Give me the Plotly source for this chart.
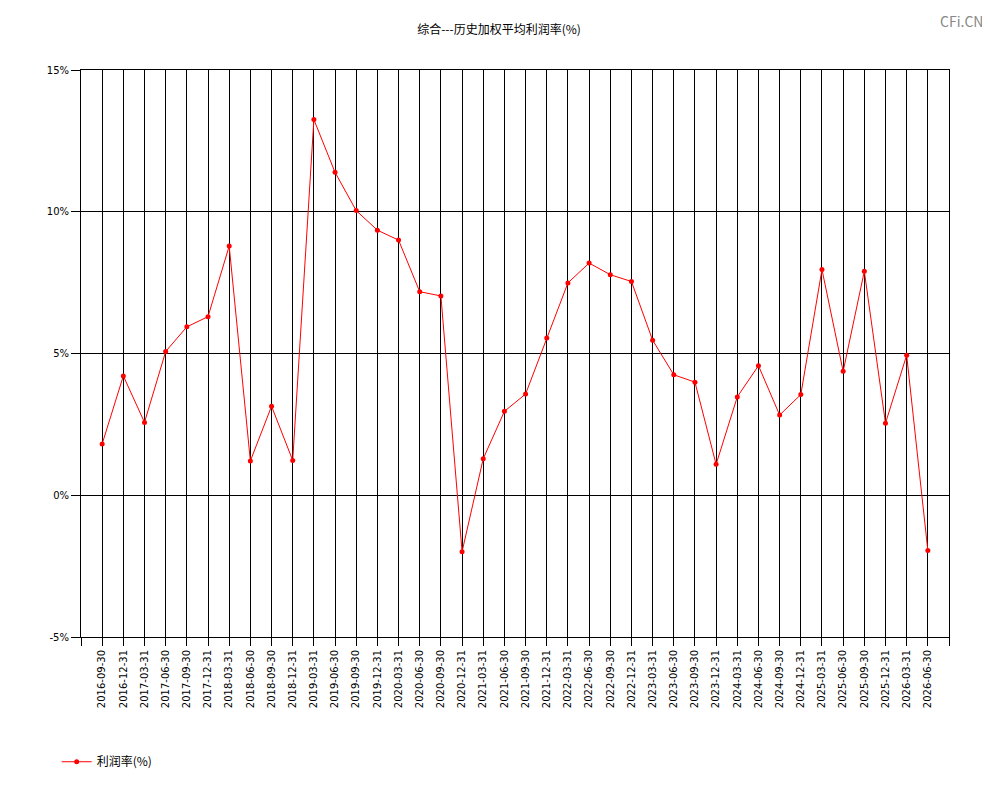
import plotly.graph_objects as go

dates = [
    "2016-09-30", "2016-12-31", "2017-03-31", "2017-06-30", "2017-09-30", "2017-12-31",
    "2018-03-31", "2018-06-30", "2018-09-30", "2018-12-31", "2019-03-31", "2019-06-30",
    "2019-09-30", "2019-12-31", "2020-03-31", "2020-06-30", "2020-09-30", "2020-12-31",
    "2021-03-31", "2021-06-30", "2021-09-30", "2021-12-31", "2022-03-31", "2022-06-30",
    "2022-09-30", "2022-12-31", "2023-03-31", "2023-06-30", "2023-09-30", "2023-12-31",
    "2024-03-31", "2024-06-30", "2024-09-30", "2024-12-31", "2025-03-31", "2025-06-30",
    "2025-09-30", "2025-12-31", "2026-03-31", "2026-06-30",
]
profit_rate = [
    1.81, 4.21, 2.57, 5.07, 5.94, 6.30, 8.79, 1.21, 3.14, 1.23,
    13.25, 11.39, 10.04, 9.35, 9.00, 7.18, 7.03, -1.99, 1.29, 2.96,
    3.57, 5.55, 7.49, 8.19, 7.78, 7.54, 5.47, 4.25, 3.99, 1.09,
    3.47, 4.57, 2.83, 3.55, 7.96, 4.37, 7.90, 2.54, 4.94, -1.95,
]
y_ticks = [-5, 0, 5, 10, 15]

idx = list(range(len(dates)))

# the page body adds an 8px offset, so the figure is a bit smaller than the window
W, H = 982, 792
L, T, PW, PH = 73, 62, 868, 567

fig = go.Figure()
fig.add_trace(go.Scatter(
    x=idx, y=profit_rate, mode="lines+markers", name="利润率(%)",
    line=dict(color="#ff0000", width=1),
    marker=dict(color="#ff0000", size=5),
))

fig.update_layout(
    width=W, height=H,
    paper_bgcolor="white", plot_bgcolor="white",
    margin=dict(l=L, r=W - L - PW, t=T, b=H - T - PH),
    font=dict(family="Noto Sans CJK SC, DejaVu Sans", size=11, color="black"),
    title=dict(text="综合---历史加权平均利润率(%)", x=0.5, xanchor="center",
               y=1 - 22 / H, yanchor="middle", font=dict(size=12)),
    showlegend=True,
    legend=dict(x=-0.028, y=-0.22, xanchor="left", yanchor="middle",
                font=dict(size=12), bgcolor="rgba(0,0,0,0)"),
    annotations=[dict(text="CFi.CN", xref="paper", yref="paper",
                      x=(977 - L) / PW, y=1 + (T - 1) / PH,
                      xanchor="right", yanchor="top",
                      showarrow=False, font=dict(size=14, color="#888888"))],
)

fig.update_xaxes(
    range=[-1, len(dates)],
    tickmode="array", tickvals=[-1] + idx + [len(dates)],
    ticktext=[""] + dates + [""],
    tickangle=-90, ticks="outside", ticklen=8, tickcolor="black",
    showgrid=True, gridcolor="black", gridwidth=1,
    showline=True, linecolor="black", linewidth=1, mirror=True,
    zeroline=False, tickfont=dict(family="DejaVu Sans", size=10),
)
fig.update_yaxes(
    range=[-5, 15],
    tickmode="array", tickvals=y_ticks, ticktext=[f"{v}%" for v in y_ticks],
    ticks="outside", ticklen=9, tickcolor="black",
    showgrid=True, gridcolor="black", gridwidth=1,
    showline=True, linecolor="black", linewidth=1, mirror=True,
    zeroline=False, tickfont=dict(family="DejaVu Sans", size=10),
)

fig.write_html("out.html")
